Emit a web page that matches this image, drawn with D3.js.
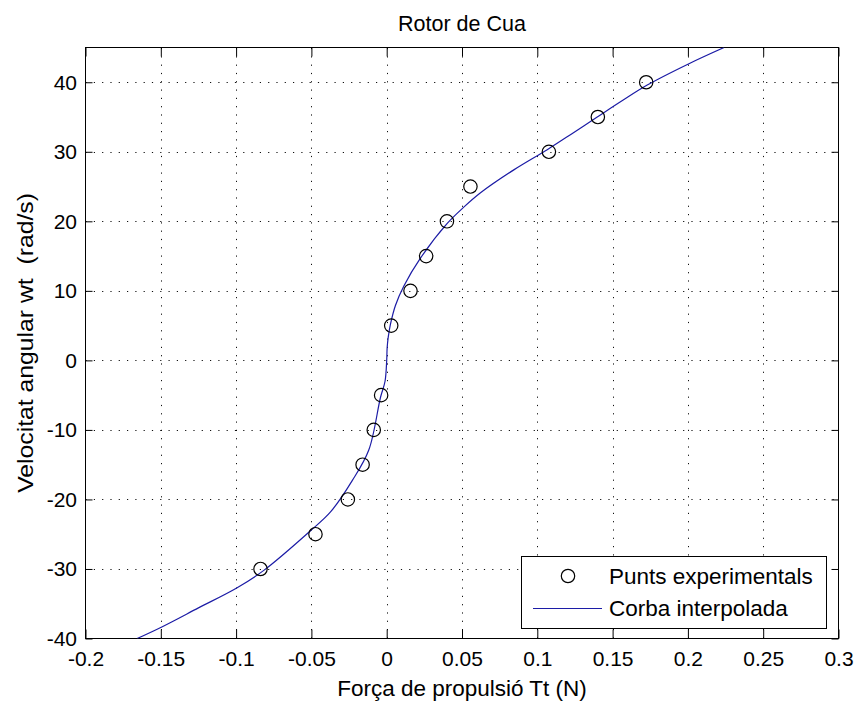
<!DOCTYPE html>
<html>
<head>
<meta charset="utf-8">
<script src="https://cdn.jsdelivr.net/npm/d3@7"></script>
<style>
  html, body { margin: 0; padding: 0; background: #fff; }
  svg { display: block; }
  text { font-family: "Liberation Sans", Arial, Helvetica, sans-serif; fill: #000; }
</style>
</head>
<body>
<svg id="chart" width="856" height="704"></svg>
<script>
// Experimental points: thrust force Tt (N) vs angular velocity wt (rad/s)
const expForce = [-0.0838, -0.0473, -0.0258, -0.016, -0.0086, -0.0037, 0.003, 0.0158, 0.0262, 0.040, 0.0556, 0.1077, 0.1402, 0.1723];
const expOmega = [-30, -25, -20, -15, -10, -5, 5, 10, 15, 20, 25, 30, 35, 40];

// Interpolated curve, sampled along its length
const fitForce = [-0.1657, -0.149, -0.125, -0.0993, -0.0816, -0.0506, -0.0373, -0.0229, -0.0119, -0.0041, -0.0011, 0.0, 0.0003, 0.0010, 0.0025, 0.0058, 0.0114, 0.0224, 0.0402, 0.0510, 0.0623, 0.0844, 0.1066, 0.1230, 0.1398, 0.1560, 0.1730, 0.2000, 0.2240];
const fitOmega = [-40, -38.3, -35.6, -32.7, -30.2, -24.5, -21.8, -17.3, -12.9, -5.3, -3.0, 0, 1.8, 3.3, 5.2, 7.9, 10.7, 14.7, 19.7, 22.0, 24.1, 27.4, 30.3, 32.6, 35.0, 37.3, 39.6, 42.6, 45.0];

// Axis ticks
const xTicks = [-0.2, -0.15, -0.1, -0.05, 0, 0.05, 0.1, 0.15, 0.2, 0.25, 0.3];
const xTickLabels = ["-0.2", "-0.15", "-0.1", "-0.05", "0", "0.05", "0.1", "0.15", "0.2", "0.25", "0.3"];
const yTicks = [-40, -30, -20, -10, 0, 10, 20, 30, 40];
const yTickLabels = ["-40", "-30", "-20", "-10", "0", "10", "20", "30", "40"];

const titleText = "Rotor de Cua";
const xLabelText = "Força de propulsió Tt (N)";
const yLabelText = "Velocitat angular wt  (rad/s)";
const legendLabels = ["Punts experimentals", "Corba interpolada"];

const lineColor = "#1c1ca6";

const svg = d3.select("#chart");
const plotLeft = 85.5, plotRight = 838.5, plotTop = 47.5, plotBottom = 638.5;

const x = d3.scaleLinear().domain([-0.2, 0.3]).range([plotLeft, plotRight]);
const y = d3.scaleLinear().domain([-40, 45]).range([plotBottom, plotTop]);

// Dotted grid
const grid = svg.append("g").attr("stroke", "#111").attr("stroke-width", 1).attr("stroke-dasharray", "1.2,7.1");
grid.selectAll("line.gx").data(xTicks.slice(1, -1)).join("line").attr("class", "gx")
  .attr("x1", d => Math.round(x(d)) + 0.5).attr("x2", d => Math.round(x(d)) + 0.5)
  .attr("y1", plotBottom).attr("y2", plotTop);
grid.selectAll("line.gy").data(yTicks.slice(1)).join("line").attr("class", "gy")
  .attr("y1", d => Math.round(y(d)) + 0.5).attr("y2", d => Math.round(y(d)) + 0.5)
  .attr("x1", plotLeft).attr("x2", plotRight);

// Axes with inward ticks on all four sides
const fmtX = d => xTickLabels[xTicks.indexOf(d)];
const fmtY = d => yTickLabels[yTicks.indexOf(d)];

const gBottom = svg.append("g").attr("transform", `translate(0,${plotBottom})`)
  .call(d3.axisBottom(x).tickValues(xTicks).tickFormat(fmtX).tickSizeInner(-9).tickSizeOuter(0));
gBottom.selectAll("text").attr("dy", null).attr("y", 27.5).style("font-size", "21px");

const gTop = svg.append("g").attr("transform", `translate(0,${plotTop})`)
  .call(d3.axisTop(x).tickValues(xTicks).tickFormat("").tickSizeInner(-9).tickSizeOuter(0));

const gLeft = svg.append("g").attr("transform", `translate(${plotLeft},0)`)
  .call(d3.axisLeft(y).tickValues(yTicks).tickFormat(fmtY).tickSizeInner(-7).tickSizeOuter(0));
gLeft.selectAll("text").attr("x", -8.5).attr("dy", "0.33em").style("font-size", "21px");

const gRight = svg.append("g").attr("transform", `translate(${plotRight},0)`)
  .call(d3.axisRight(y).tickValues(yTicks).tickFormat("").tickSizeInner(-7).tickSizeOuter(0));

[gBottom, gTop, gLeft, gRight].forEach(g => {
  g.select(".domain").remove();
  g.selectAll("line").attr("stroke", "#000");
  g.attr("font-family", null).attr("font-size", null);
});

// Axes box
svg.append("rect").attr("x", plotLeft).attr("y", plotTop)
  .attr("width", plotRight - plotLeft).attr("height", plotBottom - plotTop)
  .attr("fill", "none").attr("stroke", "#000").attr("stroke-width", 1);

// Clip the curve to the axes area
svg.append("clipPath").attr("id", "plotClip")
  .append("rect").attr("x", plotLeft).attr("y", plotTop)
  .attr("width", plotRight - plotLeft).attr("height", plotBottom - plotTop);

const fitData = fitForce.map((f, i) => [f, fitOmega[i]]);
svg.append("path").datum(fitData)
  .attr("clip-path", "url(#plotClip)")
  .attr("fill", "none").attr("stroke", lineColor).attr("stroke-width", 1.2)
  .attr("d", d3.line().x(d => x(d[0])).y(d => y(d[1])).curve(d3.curveCatmullRom.alpha(0.5)));

const expData = expForce.map((f, i) => [f, expOmega[i]]);
svg.append("g").selectAll("circle").data(expData).join("circle")
  .attr("cx", d => x(d[0])).attr("cy", d => y(d[1])).attr("r", 6.7)
  .attr("fill", "none").attr("stroke", "#000").attr("stroke-width", 1.2);

// Title and axis labels
svg.append("text").attr("x", (plotLeft + plotRight) / 2).attr("y", 31)
  .attr("text-anchor", "middle").style("font-size", "21.5px").text(titleText);
svg.append("text").attr("x", (plotLeft + plotRight) / 2).attr("y", 696)
  .attr("text-anchor", "middle").style("font-size", "22.5px").text(xLabelText);
svg.append("text").attr("transform", `translate(33,${(plotTop + plotBottom) / 2}) rotate(-90) scale(1.1,1)`)
  .attr("text-anchor", "middle").style("font-size", "22.5px").style("white-space", "pre")
  .text(yLabelText);

// Legend
const legend = svg.append("g");
legend.append("rect").attr("x", 521.5).attr("y", 556.5).attr("width", 305).attr("height", 72)
  .attr("fill", "#fff").attr("stroke", "#000").attr("stroke-width", 1);
legend.append("circle").attr("cx", 568).attr("cy", 576).attr("r", 6.7)
  .attr("fill", "none").attr("stroke", "#000").attr("stroke-width", 1.2);
legend.append("line").attr("x1", 533).attr("x2", 602).attr("y1", 608.5).attr("y2", 608.5)
  .attr("stroke", lineColor).attr("stroke-width", 1.2);
legend.selectAll("text").data(legendLabels).join("text")
  .attr("x", 609).attr("y", (d, i) => 584 + i * 32).style("font-size", "22.5px").text(d => d);
</script>
</body>
</html>
